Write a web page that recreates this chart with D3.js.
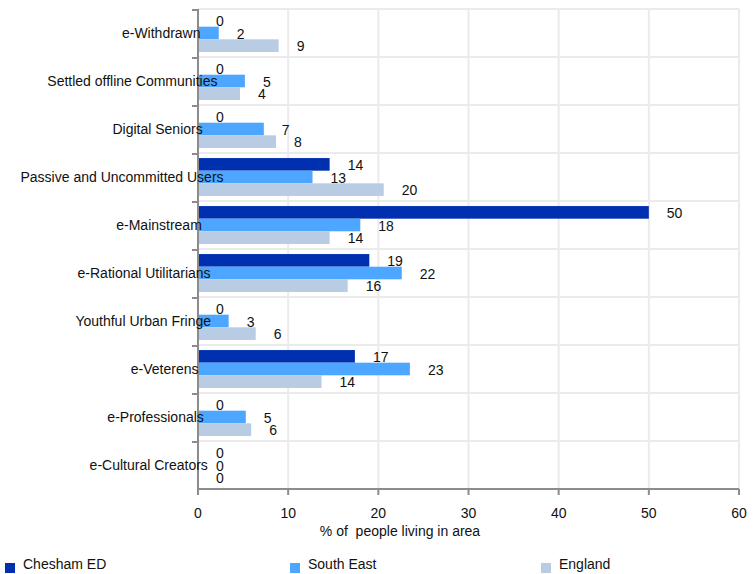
<!DOCTYPE html>
<html><head><meta charset="utf-8">
<script src="https://cdn.jsdelivr.net/npm/d3@7/dist/d3.min.js"></script>
<style>body{margin:0;background:#fff}svg{display:block;font-family:"Liberation Sans",Arial,sans-serif}</style>
</head><body><svg id="c" width="756" height="574"></svg>
<script>
const categories = ["e-Withdrawn","Settled offline Communities","Digital Seniors","Passive and Uncommitted Users","e-Mainstream","e-Rational Utilitarians","Youthful Urban Fringe","e-Veterens","e-Professionals","e-Cultural Creators"];
const seriesNames = ["Chesham ED","South East","England"];
// bar lengths
const chesham   = [0,0,0,14.6,50,19.0,0,17.4,0,0];
const southEast = [2.3,5.2,7.3,12.7,18.0,22.6,3.4,23.5,5.3,0];
const england   = [8.95,4.66,8.65,20.6,14.6,16.6,6.4,13.7,5.9,0];
// value labels as printed on the picture
const cheshamLabels   = [0,0,0,14,50,19,0,17,0,0];
const southEastLabels = [2,5,7,13,18,22,3,23,5,0];
const englandLabels   = [9,4,8,20,14,16,6,14,6,0];
const xTicks = [0,10,20,30,40,50,60];
const colors = ["#0030b0","#4da6ff","#b8cce4"];
const xTitle = "% of  people living in area";

const values = [chesham, southEast, england];
const labels = [cheshamLabels, southEastLabels, englandLabels];
const svg = d3.select("#c");
const L = 198, R = 739, T = 9, B = 489;
const x = d3.scaleLinear().domain([0,60]).range([L,R]);
const y = d3.scaleBand().domain(categories).range([T,B]);
const inner = d3.scaleBand().domain(seriesNames).range([0,y.bandwidth()]).paddingOuter(0.4);

// grid
const g = svg.append("g");
g.selectAll("line.v").data(xTicks.slice(1)).join("line")
  .attr("x1",d=>x(d)).attr("x2",d=>x(d)).attr("y1",T).attr("y2",B)
  .attr("stroke","#ebebeb").attr("stroke-width",2);
const bounds = categories.map(c=>y(c));
g.selectAll("line.h").data(bounds).join("line")
  .attr("x1",L).attr("x2",R).attr("y1",d=>d).attr("y2",d=>d)
  .attr("stroke","#ebebeb").attr("stroke-width",2);

// bars
seriesNames.forEach((s,si)=>{
  svg.append("g").selectAll("rect").data(categories).join("rect")
    .attr("x",x(0)).attr("y",c=>y(c)+inner(s))
    .attr("width",(c,i)=>x(values[si][i])-x(0))
    .attr("height",inner.bandwidth())
    .attr("fill",colors[si]);
});

// axes
svg.append("line").attr("x1",L).attr("x2",L).attr("y1",T).attr("y2",B+1).attr("stroke","#8c8c8c").attr("stroke-width",2);
svg.append("line").attr("x1",L-1).attr("x2",R).attr("y1",B).attr("y2",B).attr("stroke","#8c8c8c").attr("stroke-width",2);
svg.selectAll("line.yt").data(bounds).join("line")
  .attr("x1",L-6).attr("x2",L).attr("y1",d=>d+1).attr("y2",d=>d+1).attr("stroke","#8c8c8c").attr("stroke-width",2);
svg.selectAll("line.xt").data(xTicks).join("line")
  .attr("x1",d=>x(d)).attr("x2",d=>x(d)).attr("y1",B).attr("y2",B+6).attr("stroke","#8c8c8c").attr("stroke-width",2);
svg.selectAll("text.xt").data(xTicks).join("text")
  .attr("x",d=>x(d)).attr("y",518).attr("text-anchor","middle")
  .attr("font-size",14).attr("fill","#111").text(d=>d);
svg.append("text").attr("x",400).attr("y",536).attr("text-anchor","middle")
  .attr("font-size",14).attr("fill","#111").style("white-space","pre").attr("xml:space","preserve").text(xTitle);

// value labels
seriesNames.forEach((s,si)=>{
  svg.append("g").selectAll("text").data(categories).join("text")
    .attr("x",(c,i)=>x(values[si][i])+18)
    .attr("y",c=>y(c)+inner(s)+inner.bandwidth()-0.5)
    .attr("font-size",14).attr("fill","#111")
    .text((c,i)=>labels[si][i]);
});

// category labels
svg.append("g").selectAll("text").data(categories).join("text")
  .attr("y",c=>y(c)+y.bandwidth()/2+5)
  .attr("font-size",14).attr("fill","#111")
  .text(c=>c)
  .each(function(){ const w=this.getComputedTextLength(); d3.select(this).attr("x",186-0.815*w); });

// legend
const legX = [5,290,541];
seriesNames.forEach((s,si)=>{
  svg.append("rect").attr("x",legX[si]).attr("y",563).attr("width",10).attr("height",10).attr("fill",colors[si]);
  svg.append("text").attr("x",legX[si]+18).attr("y",569).attr("font-size",14).attr("fill","#111").text(s);
});
</script></body></html>
